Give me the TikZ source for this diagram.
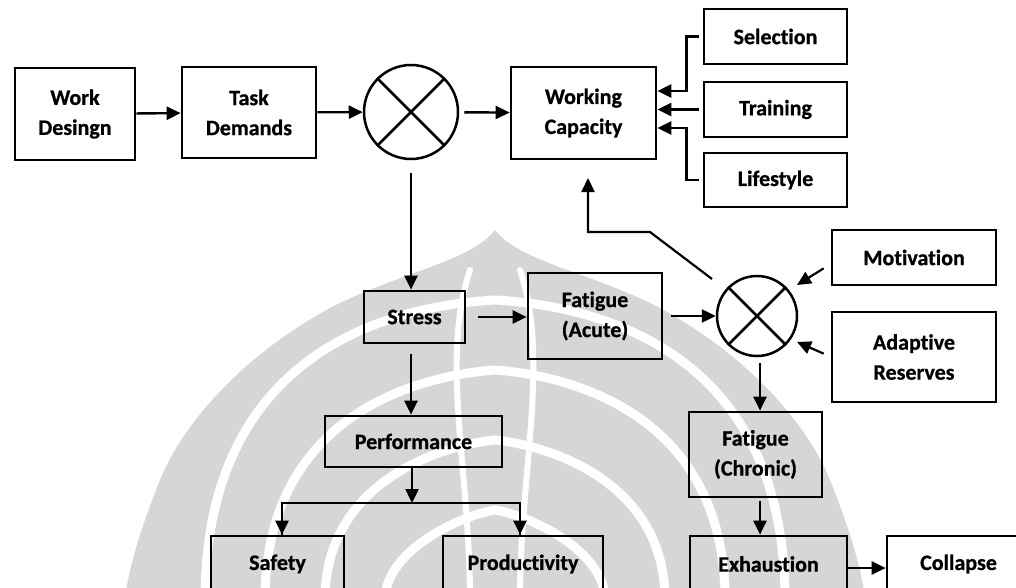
\documentclass[tikz,border=0pt]{standalone}
\usepackage{fontspec}
\setmainfont{Carlito}[Ligatures={NoCommon}, BoldFeatures={FakeBold=0.8}]
\usetikzlibrary{arrows.meta}
\definecolor{wmgrey}{RGB}{214,214,214}
\begin{document}
\begin{tikzpicture}[x=1pt,y=-1pt,
  box/.style={draw, line width=2.7pt, align=center, inner sep=0pt,
    font=\bfseries\fontsize{22}{30}\selectfont},
  xnode/.style={draw, circle, line width=2.5pt, inner sep=0pt},
  arr/.style={line width=2.4pt, -{Triangle[length=14pt,width=13pt]}},
  wmband/.style={draw=white, line width=9pt, line cap=round}]
\useasboundingbox (0,0) rectangle (1016,588);
\clip (0,0) rectangle (1016,588);

% background emblem
\fill[wmgrey] (495,230) .. controls (470,262) and (400,272) .. (330,308)
  .. controls (235,360) and (180,430) .. (160,480)
  .. controls (140,530) and (128,570) .. (125,600) -- (865,600)
  .. controls (862,570) and (850,530) .. (830,480)
  .. controls (810,430) and (755,360) .. (660,308)
  .. controls (590,272) and (520,262) .. (495,230) -- cycle;
\foreach \t/\w in {300/290, 370/230, 440/170, 510/110}{
  \draw[wmband] (495-\w,600) .. controls (495-\w,\t+40) and (495-\w*0.3,\t+5) .. (495,\t)
    .. controls (495+\w*0.3,\t+5) and (495+\w,\t+40) .. (495+\w,600);
}
\draw[wmband, line width=6pt] (470,600) .. controls (470,470) and (440,360) .. (470,270);
\draw[wmband, line width=6pt] (520,600) .. controls (520,470) and (550,360) .. (520,270);

% blocks
\node[box, minimum width=120pt, minimum height=92pt] (work) at (75,114) {Work\\Desingn};
\node[box, minimum width=134pt, minimum height=91pt] (task) at (249,112.5) {Task\\Demands};
\node[xnode, minimum size=94pt] (c1) at (411,112) {};
\node[box, minimum width=145pt, minimum height=92pt] (wc) at (583.5,113) {Working\\Capacity};
\node[box, minimum width=143pt, minimum height=55pt] (sel) at (775.5,36.5) {Selection};
\node[box, minimum width=143pt, minimum height=55pt] (train) at (775.5,109.5) {Training};
\node[box, minimum width=143pt, minimum height=54pt] (life) at (775.5,180) {Lifestyle};
\node[box, minimum width=101pt, minimum height=52pt] (stress) at (414.5,317) {Stress};
\node[box, minimum width=134pt, minimum height=86pt] (acute) at (595,316) {Fatigue\\(Acute)};
\node[xnode, minimum size=80pt] (c2) at (757,316) {};
\node[box, minimum width=164pt, minimum height=55pt] (motiv) at (914,257.5) {Motivation};
\node[box, minimum width=164pt, minimum height=90pt] (adapt) at (914,357) {Adaptive\\Reserves};
\node[box, minimum width=177pt, minimum height=51pt] (perf) at (413.5,441.5) {Performance};
\node[box, minimum width=133pt, minimum height=85pt] (chronic) at (755.5,454.5) {Fatigue\\(Chronic)};
\node[box, minimum width=133pt, minimum height=56pt] (safety) at (277.5,564) {Safety};
\node[box, minimum width=160pt, minimum height=56pt] (prod) at (523,564) {Productivity};
\node[box, minimum width=157pt, minimum height=56pt] (exh) at (768.5,564) {Exhaustion};
\node[box, minimum width=143pt, minimum height=56pt] (coll) at (958.5,564) {Collapse};

% crosses inside the summing junctions
\foreach \c in {c1,c2}{
  \draw[line width=2.5pt] (\c.north west) -- (\c.south east);
  \draw[line width=2.5pt] (\c.north east) -- (\c.south west);
}

% helper points
\coordinate (wcin) at (588,178);
\coordinate (fbk) at (650,232);
\coordinate (split) at (412,503);

% connectors
\draw[arr] (work) -- (task);
\draw[arr] (task) -- (c1);
\draw[arr, shorten <=5pt] (c1) -- (wc);
\draw[arr, shorten <=4pt] (sel.west) -- ++(-16,0) |- ([yshift=22pt]wc.east);
\draw[arr, shorten <=4pt] (train.west) -- (train.west -| wc.east);
\draw[arr, shorten <=4pt] (life.west) -- ++(-16,0) |- ([yshift=-15pt]wc.east);
\draw[arr, shorten <=13pt] (c1.south) -- (c1.south |- stress.north);
\draw[arr, shorten <=12pt] (stress.east) -- (acute.west |- stress);
\draw[arr, shorten <=8pt] (acute.east |- c2) -- (c2.west);
\draw[arr, line width=2.2pt] ([shift={(-45,-37)}]c2.center) -- (fbk) -- (wcin |- fbk) -- (wcin);
\draw[arr, line width=2.2pt] ([shift={(-7,-18)}]motiv.south west) -- ([shift={(40,-31)}]c2.center);
\draw[arr, line width=2.2pt] ([shift={(-7,43)}]adapt.north west) -- ([shift={(40,26)}]c2.center);
\draw[arr, shorten <=10pt] (c1.south |- stress.south) -- (c1.south |- perf.north);
\draw[arr] (perf.south -| split) -- (split);
\draw[line width=2.4pt] (safety.north -| 282,0) |- (split) -| (prod.north -| 520,0);
\draw[arr] (split -| 282,0) -- (safety.north -| 282,0);
\draw[arr] (split -| 520,0) -- (prod.north -| 520,0);
\draw[arr, shorten <=6pt] (c2.south -| 760,0) -- (chronic.north -| 760,0);
\draw[arr, shorten <=3pt] (chronic.south -| 760,0) -- (exh.north -| 760,0);
\draw[arr] (exh.east |- 0,568) -- (coll.west |- 0,568);
\end{tikzpicture}
\end{document}
